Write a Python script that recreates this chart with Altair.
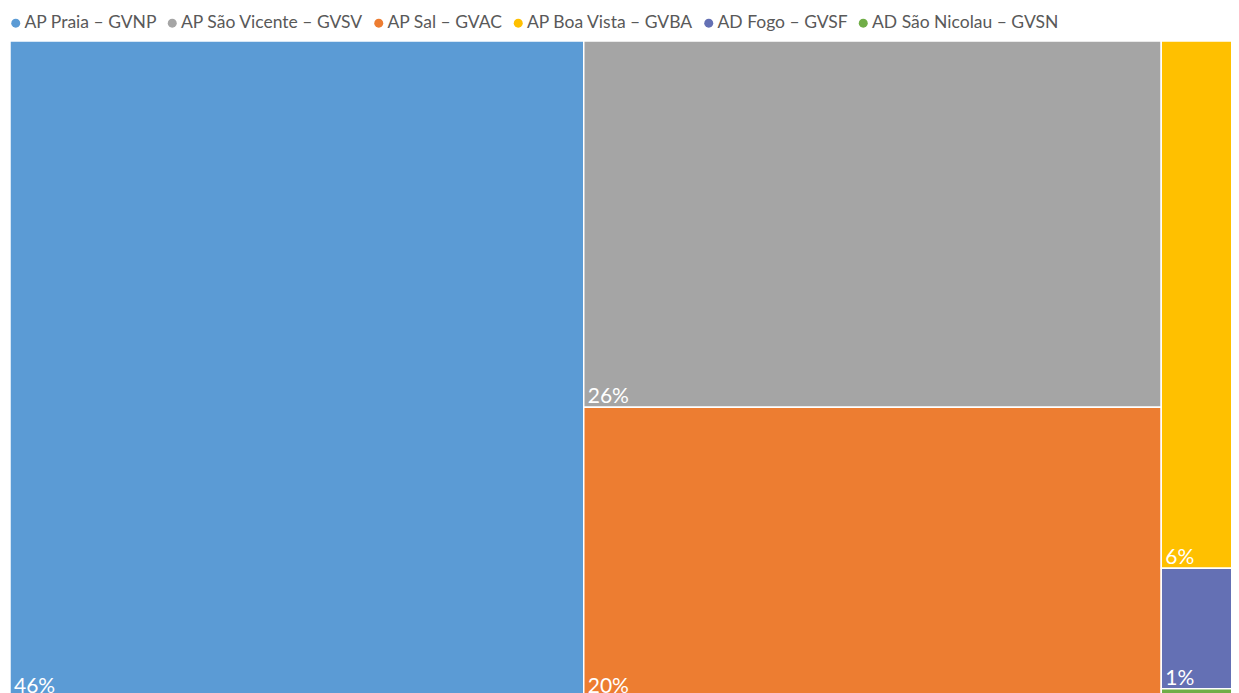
import altair as alt
import pandas as pd

names = ["AP Praia – GVNP", "AP São Vicente – GVSV", "AP Sal – GVAC",
         "AP Boa Vista – GVBA", "AD Fogo – GVSF", "AD São Nicolau – GVSN"]
shares = [45.9, 25.8, 20.4, 6.35, 1.45, 0.1]
colors = ["#5B9BD5", "#A5A5A5", "#ED7D31", "#FFC000", "#6470B4", "#70AD47"]

# full treemap extent (it runs past the visible window, as in the reference)
TREE_W, TREE_H = 1250, 656
VIEW_W, VIEW_H = 1221, 652


def squarify(values, x, y, w, h):
    total = sum(values)
    k = w * h / total
    areas = [v * k for v in values]
    rects = []
    i = 0
    while i < len(areas):
        short = min(w, h)

        def worst(r):
            s = sum(r)
            return max(max(short * short * a / (s * s), s * s / (short * short * a)) for a in r)

        row = [areas[i]]
        j = i + 1
        while j < len(areas) and worst(row + [areas[j]]) <= worst(row):
            row.append(areas[j])
            j += 1
        s = sum(row)
        if w >= h:
            cw = s / h
            yy = y
            for a in row:
                hh = a / cw
                rects.append((x, yy, x + cw, yy + hh))
                yy += hh
            x += cw
            w -= cw
        else:
            rh = s / w
            xx = x
            for a in row:
                ww = a / rh
                rects.append((xx, y, xx + ww, y + rh))
                xx += ww
            y += rh
            h -= rh
        i = j
    return rects


rects = squarify(shares, 0, 0, TREE_W, TREE_H)
df = pd.DataFrame({
    "name": names,
    "frac": [s / 100 for s in shares],
    "x0": [r[0] for r in rects],
    "y0": [r[1] for r in rects],
    "x1": [r[2] for r in rects],
    "y1": [r[3] for r in rects],
})

xs = alt.Scale(domain=[0, VIEW_W], nice=False, zero=False)
ys = alt.Scale(domain=[0, VIEW_H], nice=False, zero=False, reverse=True)

base = alt.Chart(df)

boxes = base.mark_rect(stroke="white", strokeWidth=1.5, clip=True).encode(
    x=alt.X("x0:Q", scale=xs, axis=None),
    x2="x1:Q",
    y=alt.Y("y0:Q", scale=ys, axis=None),
    y2="y1:Q",
    color=alt.Color(
        "name:N",
        scale=alt.Scale(domain=names, range=colors),
        legend=alt.Legend(
            title=None,
            orient="none",
            legendX=-3,
            legendY=-27,
            direction="horizontal",
            columns=6,
            symbolType="circle",
            symbolSize=81,
            symbolStrokeWidth=0,
            labelFont="Lato",
            labelFontSize=17.5,
            labelColor="#595959",
            labelLimit=0,
            labelOffset=0,
            columnPadding=6.5,
            padding=0,
        ),
    ),
)

# labels only for tiles tall enough to hold them (as the source chart does)
labels = base.transform_filter("datum.y1 - datum.y0 >= 20").mark_text(
    align="left", baseline="alphabetic", dx=4, dy=-4,
    color="white", font="Lato", fontSize=21, clip=True,
).encode(
    x=alt.X("x0:Q", scale=xs, axis=None),
    y=alt.Y("y1:Q", scale=ys, axis=None),
    text=alt.Text("frac:Q", format=".0%"),
)

chart = alt.layer(boxes, labels).properties(
    width=VIEW_W,
    height=VIEW_H,
    autosize=alt.AutoSizeParams(type="none"),
    padding={"left": 2, "top": 33, "right": 0, "bottom": 0},
    background="white",
).configure_view(stroke=None)

chart.save("out.html", embed_options={"renderer": "svg", "actions": False})
